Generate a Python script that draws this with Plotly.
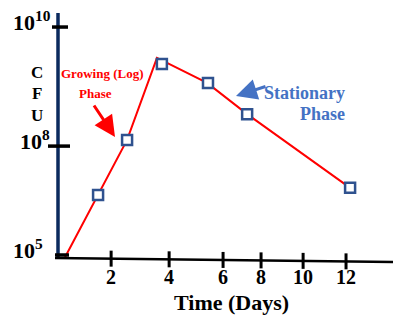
import plotly.graph_objects as go

W, H = 401, 316
OFF = 8  # page body margin
# schematic units: x = days-ish position, y = log10(CFU)-ish position
line_x = [0.38, 1.52, 2.52, 3.55, 5.28, 6.66, 10.21]
line_y = [4.94, 6.65, 8.17, 10.43, 9.74, 8.88, 6.85]
marker_x = [1.52, 2.52, 3.72, 5.31, 6.66, 10.21]
marker_y = [6.65, 8.17, 10.26, 9.74, 8.88, 6.85]
x_tick_pos = [1.97, 3.97, 5.83, 7.14, 8.59, 10.07]
x_tick_labels = ["2", "4", "6", "8", "10", "12"]
y_tick_pos = [5.0, 8.0, 11.28]
y_tick_labels = ["10<sup>5</sup>", "10<sup>8</sup>", "10<sup>10</sup>"]

# axis mapping (window pixel <-> units)
XPX0, XS = 54.0, 29.0
YPX0, YS = 255.0, 36.3
def ux(px): return (px - XPX0) / XS
def uy(py): return 5 + (YPX0 - py) / YS
def pxx(u): return XPX0 + u * XS
def pxy(v): return YPX0 - (v - 5) * YS

FONT = "Liberation Serif, Times New Roman, serif"
fig = go.Figure()
fig.add_trace(go.Scatter(x=line_x, y=line_y, mode="lines",
                         line=dict(color="#ff0000", width=2), hoverinfo="skip"))
fig.add_trace(go.Scatter(x=marker_x, y=marker_y, mode="markers",
                         marker=dict(symbol="square", size=10, color="white",
                                     line=dict(color="#2f528f", width=2.5)),
                         hoverinfo="skip"))

shapes = []
# y axis (navy)
shapes.append(dict(type="line", x0=ux(58), x1=ux(58), y0=uy(13), y1=uy(257),
                   line=dict(color="#0b2a5e", width=3.5)))
# y ticks
for v, (a, b) in zip(y_tick_pos, [(55, 69), (48, 70), (52, 68)]):
    shapes.append(dict(type="line", x0=ux(a), x1=ux(b), y0=v, y1=v,
                       line=dict(color="black", width=3.5)))
# x axis (slightly tilted)
def axis_y(px): return 258 + (px - 55) * 4.0 / 346
shapes.append(dict(type="line", x0=ux(55), x1=ux(401), y0=uy(axis_y(55)), y1=uy(axis_y(401)),
                   line=dict(color="black", width=2.5)))
for u in x_tick_pos:
    py = axis_y(pxx(u))
    shapes.append(dict(type="line", x0=u, x1=u, y0=uy(py - 8), y1=uy(py + 8),
                       line=dict(color="black", width=3)))

ann = []
for u, t in zip(x_tick_pos, x_tick_labels):
    ann.append(dict(x=u, y=uy(277), text="<b>%s</b>" % t, showarrow=False,
                    font=dict(family=FONT, size=20, color="black"),
                    xanchor="center", yanchor="middle"))
for v, t, xr in zip(y_tick_pos, y_tick_labels, [45, 52, 53]):
    ann.append(dict(x=ux(xr), y=v, text="<b>%s</b>" % t, showarrow=False,
                    font=dict(family=FONT, size=22, color="black"),
                    xanchor="right", yanchor="middle", yshift=6))
for ch, py in zip("CFU", [72, 93, 115]):
    ann.append(dict(x=ux(37), y=uy(py), text="<b>%s</b>" % ch, showarrow=False,
                    font=dict(family=FONT, size=17, color="black"),
                    xanchor="center", yanchor="middle"))
ann.append(dict(x=ux(231), y=uy(302), text="<b>Time (Days)</b>", showarrow=False,
                font=dict(family=FONT, size=22, color="black"),
                xanchor="center", yanchor="middle"))
ann.append(dict(x=ux(102), y=uy(73), text="<b>Growing (Log)</b>", showarrow=False,
                font=dict(family=FONT, size=13, color="#ff0000"),
                xanchor="center", yanchor="middle"))
ann.append(dict(x=ux(95), y=uy(93), text="<b>Phase</b>", showarrow=False,
                font=dict(family=FONT, size=13, color="#ff0000"),
                xanchor="center", yanchor="middle"))
ann.append(dict(x=ux(347), y=uy(93), text="<b>Stationary</b>", showarrow=False,
                font=dict(family=FONT, size=18, color="#4472c4"),
                xanchor="right", yanchor="middle"))
ann.append(dict(x=ux(347), y=uy(114), text="<b>Phase</b>", showarrow=False,
                font=dict(family=FONT, size=18, color="#4472c4"),
                xanchor="right", yanchor="middle"))
# arrows
ann.append(dict(x=ux(115), y=uy(137), ax=93 - 115, ay=104 - 137, text="",
                showarrow=True, arrowhead=2, arrowsize=1.4, arrowwidth=3,
                arrowcolor="#ff0000"))
ann.append(dict(x=ux(236), y=uy(96), ax=267 - 236, ay=86 - 96, text="",
                showarrow=True, arrowhead=2, arrowsize=1.4, arrowwidth=3,
                arrowcolor="#4472c4"))

fig.update_layout(width=W - OFF, height=H - OFF, margin=dict(l=0, r=0, t=0, b=0),
                  paper_bgcolor="white", plot_bgcolor="white", showlegend=False,
                  xaxis=dict(range=[ux(OFF), ux(W)], visible=False, fixedrange=True),
                  yaxis=dict(range=[uy(H), uy(OFF)], visible=False, fixedrange=True),
                  shapes=shapes, annotations=ann)
fig.write_html("out.html")
